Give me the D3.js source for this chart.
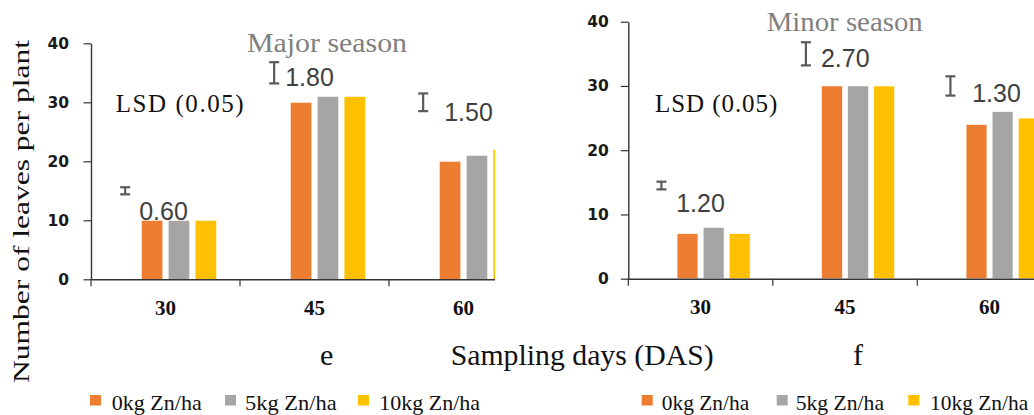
<!DOCTYPE html>
<html>
<head>
<meta charset="utf-8">
<script src="https://cdn.jsdelivr.net/npm/d3@7"></script>
<style>
@font-face { font-family: "ChartSerif"; src: local("Liberation Serif"), local("LiberationSerif"), local("Liberation Serif Regular"), local("LiberationSerif-Regular"); font-weight: normal; }
@font-face { font-family: "ChartSerif"; src: local("Liberation Serif Bold"), local("LiberationSerif-Bold"); font-weight: bold; }
</style>
</head>
<body style="margin:0">
<div id="chart"></div>
<script>
// sampling days on the x axis
const categories = ["30", "45", "60"];
const seriesNames = ["0kg Zn/ha", "5kg Zn/ha", "10kg Zn/ha"];
const seriesColors = ["#ED7D31", "#A5A5A5", "#FFC000"];

// leaves per plant, one row per zinc rate
const majorValues = [[10, 30, 20], [10, 31, 21], [10, 31, 22]];
const minorValues = [[7, 30, 24], [8, 30, 26], [7, 30, 25]];

// LSD marker (invisible first series with error bar)
const majorLsdMean = [15, 35, 30];
const minorLsdMean = [14.5, 35, 30];
const majorLsdError = [0.6, 1.8, 1.5];
const minorLsdError = [0.6, 1.8, 1.5];
const majorLsdText = ["0.60", "1.80", "1.50"];
const minorLsdText = ["1.20", "2.70", "1.30"];

const yTicks = [0, 10, 20, 30, 40];

const SERIF = "'Liberation Serif', ChartSerif, 'DejaVu Serif', serif";
const SANS = "'Liberation Sans', Arial, sans-serif";
const TICKSANS = "'DejaVu Sans', Verdana, sans-serif";

const W = 1034, H = 415;
const svg = d3.select("#chart").append("svg")
	.attr("width", W)
	.attr("height", H);

// layout of the two panels (pixels)
const panels = [
	{
		id: "major", values: majorValues, lsdMean: majorLsdMean, lsdErr: majorLsdError, lsdText: majorLsdText,
		left: 91, top: 43.3, bottom: 279.3, band: 149, clipRight: 495, tickPad: 14.5,
		title: "Major season", titleX: 247, titleY: 51.7, titleLen: 160,
		lsdX: 115.7, lsdY: 111.7, lsdLen: 128,
		labelAt: [10, 32.8, 26.9], labelDx: [14, 11, 21],
		xLabelY: 36,
		legSq: [90, 225, 358], legTx: [111.7, 245, 379.3], legLen: [90, 91.7, 100.7]
	},
	{
		id: "minor", values: minorValues, lsdMean: minorLsdMean, lsdErr: minorLsdError, lsdText: minorLsdText,
		left: 628.3, top: 21.7, bottom: 278.7, band: 144.5, clipRight: 1034, tickPad: 12,
		title: "Minor season", titleX: 766.7, titleY: 30.7, titleLen: 156,
		lsdX: 655, lsdY: 111.7, lsdLen: 122.3,
		labelAt: [10.4, 33, 27.5], labelDx: [14.7, 15, 21.7],
		xLabelY: 35.8,
		legSq: [641.7, 776.7, 908.3], legTx: [661.7, 795.7, 930], legLen: [87.6, 88.3, 98.3]
	}
];

const subKeys = ["lsd", "s0", "s5", "s10"];

// serif text helper
function serifText(parent, txt, size) {
	return parent.append("text")
		.attr("font-family", SERIF)
		.style("font-family", SERIF)
		.style("font-size", size + "px")
		.attr("fill", "#111")
		.text(txt);
}

panels.forEach((p, pi) => {
	const clipId = "clip-" + p.id;
	const clipLeft = pi === 0 ? 0 : 520;
	svg.append("clipPath").attr("id", clipId)
		.append("rect")
		.attr("x", clipLeft).attr("y", 0)
		.attr("width", p.clipRight - clipLeft).attr("height", H);

	const g = svg.append("g").attr("clip-path", "url(#" + clipId + ")");

	const x0 = d3.scaleBand()
		.domain(categories)
		.range([p.left, p.left + p.band * categories.length])
		.paddingInner(0).paddingOuter(0);

	const x1 = d3.scaleBand()
		.domain(subKeys)
		.range([0, p.band])
		.paddingInner(0.2)
		.paddingOuter(0.87);

	const y = d3.scaleLinear()
		.domain([0, 40])
		.range([p.bottom, p.top]);

	// bars
	p.values.forEach((vals, si) => {
		g.append("g")
			.selectAll("rect")
			.data(vals)
			.join("rect")
				.attr("x", (d, i) => x0(categories[i]) + x1(subKeys[si + 1]))
				.attr("y", d => y(d))
				.attr("width", x1.bandwidth())
				.attr("height", d => y(0) - y(d))
				.attr("fill", seriesColors[si])
				.attr("stroke", "#fff")
				.attr("stroke-width", 0.6);
	});

	// LSD error bars
	const eb = g.append("g")
		.attr("stroke", "#595959")
		.attr("stroke-width", 2.2)
		.attr("fill", "none");
	categories.forEach((c, i) => {
		const cx = x0(c) + x1("lsd") + x1.bandwidth() / 2;
		const y1 = y(p.lsdMean[i] + p.lsdErr[i]);
		const y2 = y(p.lsdMean[i] - p.lsdErr[i]);
		eb.append("line").attr("x1", cx).attr("x2", cx).attr("y1", y1).attr("y2", y2);
		eb.append("line").attr("x1", cx - 5).attr("x2", cx + 5).attr("y1", y1).attr("y2", y1);
		eb.append("line").attr("x1", cx - 5).attr("x2", cx + 5).attr("y1", y2).attr("y2", y2);

		g.append("text")
			.attr("x", cx + p.labelDx[i])
			.attr("y", y(p.labelAt[i]))
			.style("font-family", SANS)
			.style("font-size", "25px")
			.attr("fill", "#404040")
			.text(p.lsdText[i]);
	});

	// y axis
	const yAxis = g.append("g")
		.attr("transform", "translate(" + p.left + ",0)")
		.call(d3.axisLeft(y).tickValues(yTicks).tickSize(7.5).tickSizeOuter(0).tickPadding(p.tickPad));
	yAxis.select(".domain").attr("stroke", "#333").attr("stroke-width", 1.4);
	yAxis.selectAll(".tick line").attr("stroke", "#333").attr("stroke-width", 1.2);
	yAxis.selectAll("text")
		.style("font-family", TICKSANS)
		.style("font-weight", "bold")
		.style("font-size", "15.5px")
		.attr("fill", "#1a1a1a");

	// x axis
	const xAxis = g.append("g")
		.attr("transform", "translate(0," + p.bottom + ")")
		.call(d3.axisBottom(x0).tickSize(0).tickSizeOuter(0));
	xAxis.attr("font-family", SERIF);
	xAxis.select(".domain").attr("stroke", "#333").attr("stroke-width", 1.4);
	xAxis.selectAll("text")
		.attr("y", p.xLabelY)
		.attr("dy", 0)
		.attr("font-family", SERIF)
		.style("font-family", SERIF)
		.style("font-weight", "bold")
		.style("font-size", "21px")
		.attr("fill", "#111");
	// category boundary ticks
	xAxis.append("g")
		.selectAll("line")
		.data(categories)
		.join("line")
			.attr("x1", d => x0(d)).attr("x2", d => x0(d))
			.attr("y1", 0).attr("y2", 7)
			.attr("stroke", "#333").attr("stroke-width", 1.2);

	// season title
	serifText(svg, p.title, 27)
		.attr("x", p.titleX).attr("y", p.titleY)
		.attr("fill", "#7f7f7f")
		.attr("textLength", p.titleLen)
		.attr("lengthAdjust", "spacingAndGlyphs");

	serifText(svg, "LSD (0.05)", 25)
		.attr("x", p.lsdX).attr("y", p.lsdY)
		.attr("textLength", p.lsdLen)
		.attr("lengthAdjust", "spacing");

	// legend
	seriesNames.forEach((name, si) => {
		svg.append("rect")
			.attr("x", p.legSq[si]).attr("y", 395)
			.attr("width", 11).attr("height", 10.5)
			.attr("fill", seriesColors[si]);
		serifText(svg, name, 21)
			.attr("x", p.legTx[si]).attr("y", 410)
			.attr("textLength", p.legLen[si])
			.attr("lengthAdjust", "spacingAndGlyphs");
	});
});

// shared axis titles
serifText(svg, "Number of leaves per plant", 23)
	.attr("transform", "translate(28.5,211.5) rotate(-90)")
	.attr("text-anchor", "middle")
	.attr("textLength", 343)
	.attr("lengthAdjust", "spacingAndGlyphs");

serifText(svg, "Sampling days (DAS)", 30)
	.attr("x", 450.7).attr("y", 365)
	.attr("textLength", 263)
	.attr("lengthAdjust", "spacingAndGlyphs");

serifText(svg, "e", 30).attr("x", 320).attr("y", 365);
serifText(svg, "f", 30).attr("x", 853).attr("y", 365);
</script>
</body>
</html>
